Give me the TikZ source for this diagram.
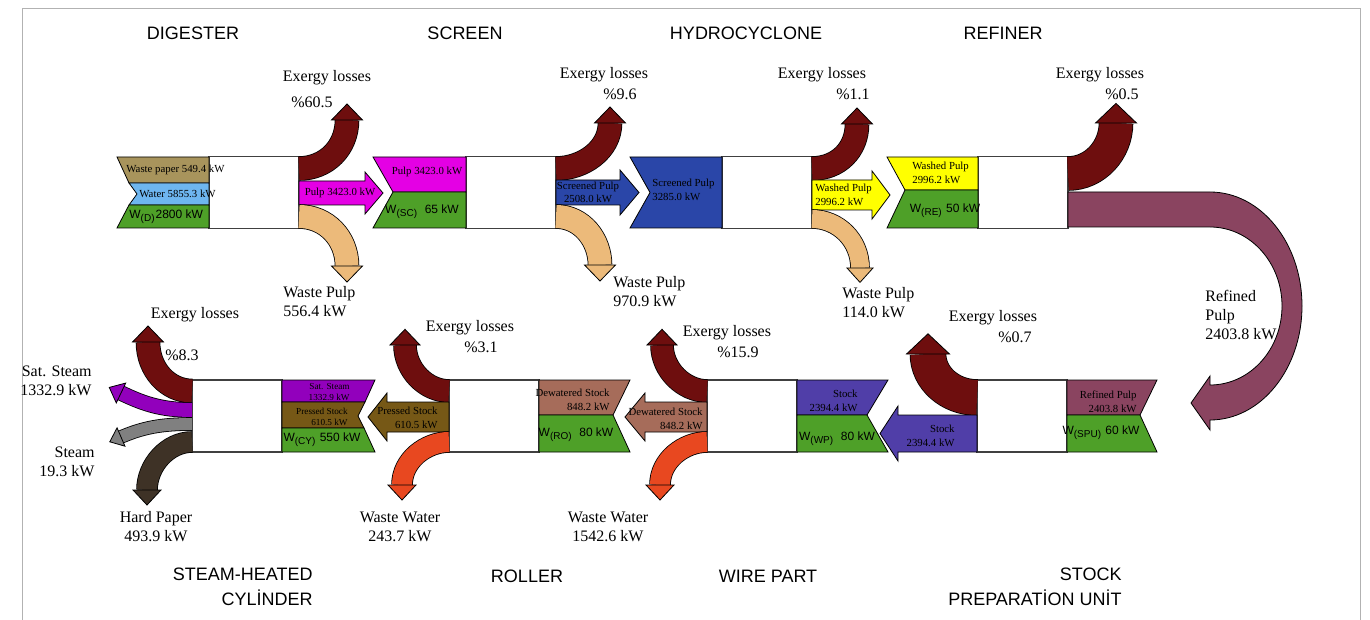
\documentclass[tikz,border=0pt]{standalone}
\usepackage{fontspec}
\setmainfont{Liberation Serif}
\setsansfont{Liberation Sans}
\usepackage{xcolor}
\usepackage{tikz}
\usetikzlibrary{calc}

\definecolor{lossred}{RGB}{110,14,14}
\definecolor{wastetan}{RGB}{236,186,122}
\definecolor{pulpmag}{RGB}{228,0,228}
\definecolor{workgreen}{RGB}{78,160,40}
\definecolor{paperolive}{RGB}{168,148,92}
\definecolor{waterblue}{RGB}{110,182,240}
\definecolor{screenblue}{RGB}{42,70,168}
\definecolor{washyellow}{RGB}{255,255,0}
\definecolor{refmauve}{RGB}{138,68,96}
\definecolor{stockslate}{RGB}{80,62,168}
\definecolor{dewbrown}{RGB}{166,108,90}
\definecolor{pressbrown}{RGB}{118,88,22}
\definecolor{steampurple}{RGB}{146,0,188}
\definecolor{steamgrey}{RGB}{128,128,128}
\definecolor{hardbrown}{RGB}{62,50,38}
\definecolor{wwred}{RGB}{232,72,32}

% head of a curved flow: colour, end point, control point, half width, length
\newcommand\flowhead[5]{%
  \path[band=#1] ($(#2)!#4!90:(#3)$) -- ($(#2)!-#5!(#3)$) -- ($(#2)!#4!-90:(#3)$) -- cycle;}

\begin{document}
\begin{tikzpicture}[x=0.5pt,y=-0.5pt,
  unit/.style={draw=black!75,fill=white,line width=.6pt,minimum width=45pt,minimum height=36pt,inner sep=0pt},
  band/.style={draw=black,line width=.4pt,fill=#1},
  flow/.style 2 args={draw=#1,line width=#2,preaction={draw=black,line width=#2+0.8pt}},
  title/.style={font=\sffamily\fontsize{9}{12.5}\selectfont,inner sep=0pt},
  lbl/.style={font=\fontsize{8}{9.5}\selectfont,inner sep=0pt},
  tiny/.style={font=\fontsize{5.4}{6.8}\selectfont,inner sep=0pt},
  tinier/.style={font=\fontsize{4.6}{5.8}\selectfont,inner sep=0pt,align=right},
  wtxt/.style={font=\sffamily\fontsize{6}{7}\selectfont,inner sep=0pt}]
  \useasboundingbox (0,0) rectangle (1370,620);
  \draw[gray!60,line width=.5pt] (22,640) -- (22,9) -- (1360,9) -- (1360,640);

  % titles
  \node[title] (h-dig) at (193,33) {DIGESTER};
  \node[title] (h-scr) at (465,33) {SCREEN};
  \node[title] (h-hyd) at (746,33) {HYDROCYCLONE};
  \node[title] (h-ref) at (1003,33) {REFINER};
  \node[title,align=right,anchor=east] (h-cyl) at (313,587) {STEAM-HEATED\\CYLİNDER};
  \node[title] (h-rol) at (527,576) {ROLLER};
  \node[title] (h-wire) at (768,576) {WIRE PART};
  \node[title,align=right,anchor=east] (h-spu) at (1122,587) {STOCK\\PREPARATİON UNİT};

  % process units
  \node[unit] (dig) at (254,192.5) {};
  \node[unit] (scr) at (511,192.5) {};
  \node[unit] (hyd) at (767,192.5) {};
  \node[unit] (ref) at (1023,192.5) {};
  \node[unit] (spu) at (1022,416) {};
  \node[unit] (wire) at (752,416) {};
  \node[unit] (rol) at (494,416) {};
  \node[unit] (cyl) at (237,416) {};

  % digester
  \path[band=paperolive] (117,157) -- (209,157) -- (209,183) -- (129,183) -- cycle;
  \path[band=waterblue] (129,183) -- (209,183) -- (209,205) -- (129,205) -- (137,194) -- cycle;
  \path[band=workgreen] (129,205) -- (209,205) -- (209,228) -- (117,228) -- cycle;
  \path[flow={lossred}{11.5pt}] (299,168.5) .. controls (326,168.5) and (347,148) .. (347,120);
  \flowhead{lossred}{347,120}{347,148}{7.75pt}{8pt}
  \path[band=pulpmag] (299,181) -- (365,181) -- (365,172) -- (383,193) -- (365,214) -- (365,205) -- (299,205) -- cycle;
  \path[flow={wastetan}{11.5pt}] (299,216.5) .. controls (326,216.5) and (347,238) .. (347,266);
  \flowhead{wastetan}{347,266}{347,238}{7.75pt}{8pt}
  \node[tiny,anchor=west] (i-paper) at (126,170) {Waste paper 549.4 kW};
  \node[tiny,anchor=west] (i-water) at (139,194) {Water 5855.3 kW};
  \node[wtxt,anchor=west] (i-wd) at (129,217) {W\textsubscript{(D)}2800 kW};
  \node[tiny] (o-dig) at (340,193) {Pulp 3423.0 kW};
  \node[lbl] (el-dig) at (327,78) {Exergy losses};
  \node[lbl] (pc-dig) at (312,102) {\%60.5};
  \node[lbl,align=left,anchor=west] (wp-dig) at (283,302) {Waste Pulp\\556.4 kW};

  % screen
  \path[band=pulpmag] (373,157) -- (466,157) -- (466,192) -- (393,192) -- cycle;
  \path[band=workgreen] (393,192) -- (466,192) -- (466,228) -- (373,228) -- cycle;
  \path[flow={lossred}{11.5pt}] (556,168.5) .. controls (583,168.5) and (610,150) .. (610,123);
  \flowhead{lossred}{610,123}{610,150}{7.75pt}{8pt}
  \path[band=screenblue] (556,180) -- (620,180) -- (620,170) -- (639,192.5) -- (620,215) -- (620,205) -- (556,205) -- cycle;
  \path[flow={wastetan}{11.5pt}] (556,216.5) .. controls (582,216.5) and (600,240) .. (600,265);
  \flowhead{wastetan}{600,265}{600,240}{7.75pt}{8pt}
  \node[tiny] (i-pulp) at (427,172) {Pulp 3423.0 kW};
  \node[wtxt] (i-wsc) at (422,212) {W\textsubscript{(SC)}\ \ 65 kW};
  \node[tiny,align=center] (o-scr) at (588,192.5) {Screened Pulp\\2508.0 kW};
  \node[lbl] (el-scr) at (604,75) {Exergy losses};
  \node[lbl] (pc-scr) at (620,94) {\%9.6};
  \node[lbl,align=left,anchor=west] (wp-scr) at (613,292) {Waste Pulp\\970.9 kW};

  % hydrocyclone
  \path[band=screenblue] (630,157) -- (722,157) -- (722,228) -- (630,228) -- (650,192.5) -- cycle;
  \path[flow={lossred}{11.5pt}] (812,168.5) .. controls (838,168.5) and (857,150) .. (857,124);
  \flowhead{lossred}{857,124}{857,150}{7.75pt}{8pt}
  \path[band=washyellow] (812,180) -- (872,180) -- (872,171) -- (890,195) -- (872,219) -- (872,210) -- (812,210) -- cycle;
  \path[flow={wastetan}{9pt}] (812,219) .. controls (838,219) and (860,240) .. (860,268);
  \flowhead{wastetan}{860,268}{860,240}{6.5pt}{7.2pt}
  \node[tiny,align=left,anchor=west] (i-scp) at (652,190) {Screened Pulp\\3285.0 kW};
  \node[tiny,align=left,anchor=west] (o-hyd) at (815,195) {Washed Pulp\\2996.2 kW};
  \node[lbl] (el-hyd) at (822,75) {Exergy losses};
  \node[lbl] (pc-hyd) at (853,94) {\%1.1};
  \node[lbl,align=left,anchor=west] (wp-hyd) at (842,303) {Waste Pulp\\114.0 kW};

  % refiner
  \path[band=washyellow] (887,157) -- (978,157) -- (978,190) -- (905,190) -- cycle;
  \path[band=workgreen] (905,190) -- (978,190) -- (978,228) -- (887,228) -- cycle;
  \path[flow={lossred}{16.5pt}] (1068,173.5) .. controls (1095,173.5) and (1116,150) .. (1116,123);
  \flowhead{lossred}{1116,123}{1116,150}{10.25pt}{9.8pt}
  \path[band=refmauve] (1068,192) -- (1210,192) arc[start angle=-90,end angle=90,x radius=92,y radius=114]
    -- (1210,430) -- (1191,403) -- (1210,376) -- (1210,385)
    arc[start angle=90,end angle=-90,x radius=72,y radius=79] -- (1068,227) -- cycle;
  \node[tiny,align=left,anchor=west] (i-wash) at (912,173) {Washed Pulp\\2996.2 kW};
  \node[wtxt] (i-wre) at (945,211) {W\textsubscript{(RE)} 50 kW};
  \node[lbl] (el-ref) at (1100,75) {Exergy losses};
  \node[lbl] (pc-ref) at (1122,94) {\%0.5};
  \node[lbl,align=left,anchor=west] (o-ref) at (1205,315) {Refined\\Pulp\\2403.8 kW};

  % stock preparation unit
  \path[band=refmauve] (1067,380) -- (1157,380) -- (1140,415) -- (1067,415) -- cycle;
  \path[band=workgreen] (1067,415) -- (1140,415) -- (1157,452) -- (1067,452) -- cycle;
  \path[flow={lossred}{17.5pt}] (977,397.5) .. controls (950,397.5) and (928,378) .. (928,354);
  \flowhead{lossred}{928,354}{928,378}{10.75pt}{10.1pt}
  \path[band=stockslate] (977,415) -- (898,415) -- (898,406) -- (880,433.5) -- (898,461) -- (898,452) -- (977,452) -- cycle;
  \node[tiny,align=right,anchor=east] (i-rp) at (1137,402) {Refined Pulp\\2403.8 kW};
  \node[wtxt] (i-wspu) at (1101,433) {W\textsubscript{(SPU)} 60 kW};
  \node[tiny,align=right,anchor=east] (o-spu) at (955,436) {Stock\\2394.4 kW};
  \node[lbl] (el-spu) at (993,318) {Exergy losses};
  \node[lbl] (pc-spu) at (1015,337) {\%0.7};

  % wire part
  \path[band=stockslate] (797,380) -- (888,380) -- (867,415) -- (797,415) -- cycle;
  \path[band=workgreen] (797,415) -- (867,415) -- (888,452) -- (797,452) -- cycle;
  \path[flow={lossred}{11pt}] (707,391) .. controls (684,391) and (662,370) .. (662,345);
  \flowhead{lossred}{662,345}{662,370}{7.5pt}{7.85pt}
  \path[band=dewbrown] (707,402) -- (645,402) -- (645,393) -- (625,417) -- (645,441) -- (645,432) -- (707,432) -- cycle;
  \path[flow={wwred}{10pt}] (707,442) .. controls (684,442) and (660,460) .. (660,485);
  \flowhead{wwred}{660,485}{660,460}{7pt}{7.5pt}
  \node[tiny,align=right,anchor=east] (i-stock) at (858,401) {Stock\\2394.4 kW};
  \node[wtxt] (i-wwp) at (837,439) {W\textsubscript{(WP)}\ \ 80 kW};
  \node[tiny,align=right,anchor=east] (o-wire) at (703,419) {Dewatered Stock\\848.2 kW};
  \node[lbl] (el-wire) at (727,333) {Exergy losses};
  \node[lbl] (pc-wire) at (738,352) {\%15.9};
  \node[lbl,align=center] (ww-wire) at (608,527) {Waste Water\\1542.6 kW};

  % roller
  \path[band=dewbrown] (539,380) -- (630,380) -- (613,415) -- (539,415) -- cycle;
  \path[band=workgreen] (539,415) -- (613,415) -- (630,452) -- (539,452) -- cycle;
  \path[flow={lossred}{11pt}] (449,391) .. controls (426,391) and (405,370) .. (405,345);
  \flowhead{lossred}{405,345}{405,370}{7.5pt}{7.85pt}
  \path[band=pressbrown] (449,402) -- (387,402) -- (387,393) -- (368,417) -- (387,441) -- (387,432) -- (449,432) -- cycle;
  \path[flow={wwred}{10pt}] (449,442) .. controls (426,442) and (402,460) .. (402,485);
  \flowhead{wwred}{402,485}{402,460}{7pt}{7.5pt}
  \node[tiny,align=right,anchor=east] (i-dew) at (610,400) {Dewatered Stock\\848.2 kW};
  \node[wtxt] (i-wro) at (576,435) {W\textsubscript{(RO)}\ \ 80 kW};
  \node[tiny,align=right,anchor=east] (o-rol) at (438,418) {Pressed Stock\\610.5 kW};
  \node[lbl] (el-rol) at (470,328) {Exergy losses};
  \node[lbl] (pc-rol) at (481,347) {\%3.1};
  \node[lbl,align=center] (ww-rol) at (400,527) {Waste Water\\243.7 kW};

  % steam-heated cylinder
  \path[band=steampurple] (282,380) -- (375,380) -- (365,402) -- (282,402) -- cycle;
  \path[band=pressbrown] (282,402) -- (365,402) -- (358,416) -- (364,428) -- (282,428) -- cycle;
  \path[band=workgreen] (282,428) -- (364,428) -- (375,452) -- (282,452) -- cycle;
  \path[flow={lossred}{11.5pt}] (192,391) .. controls (168,391) and (148,370) .. (148,342);
  \flowhead{lossred}{148,342}{148,370}{7.75pt}{8pt}
  \path[flow={steampurple}{7pt}] (192,410) .. controls (160,410) and (142,403) .. (121,393);
  \flowhead{steampurple}{121,393}{142,403}{5.5pt}{6.5pt}
  \path[flow={steamgrey}{6pt}] (192,424) .. controls (160,424) and (142,428) .. (121,437);
  \flowhead{steamgrey}{121,437}{142,428}{5pt}{6.1pt}
  \path[flow={hardbrown}{10pt}] (192,442) .. controls (168,442) and (147,465) .. (147,490);
  \flowhead{hardbrown}{147,490}{147,465}{7pt}{7.5pt}
  \node[tinier,anchor=east] (i-sat) at (350,392) {Sat. Steam\\1332.9 kW};
  \node[tinier,anchor=east] (i-press) at (348,417) {Pressed Stock\\610.5 kW};
  \node[wtxt] (i-wcy) at (322,440) {W\textsubscript{(CY)} 550 kW};
  \node[lbl] (el-cyl) at (195,315) {Exergy losses};
  \node[lbl] (pc-cyl) at (182,355) {\%8.3};
  \node[lbl,align=right,anchor=east] (o-sat) at (92,381) {Sat. Steam\\1332.9 kW};
  \node[lbl,align=right,anchor=east] (o-steam) at (95,462) {Steam\\19.3 kW};
  \node[lbl,align=center] (o-hard) at (156,527) {Hard Paper\\493.9 kW};
\end{tikzpicture}
\end{document}
